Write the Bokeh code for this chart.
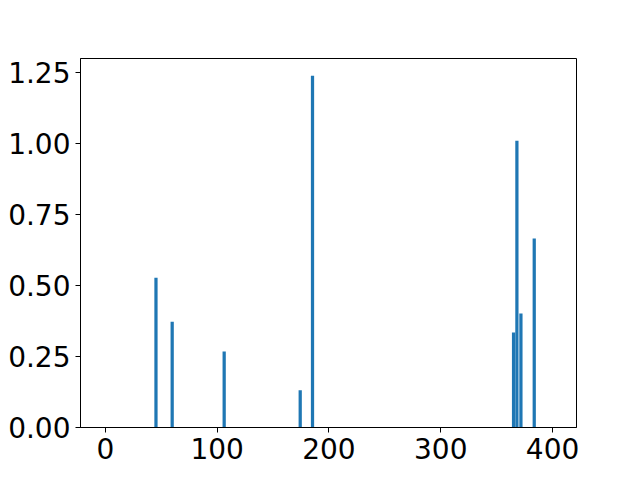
from bokeh.plotting import figure
from bokeh.models import FixedTicker, PrintfTickFormatter, Label, ColumnDataSource, Range1d
from bokeh.embed import file_html
from bokeh.resources import INLINE

# Data
frequencies = [45.3, 59.8, 106.3, 174.3, 185.3, 365.1, 368.1, 371.7, 383.6]
intensities = [0.528, 0.373, 0.268, 0.131, 1.239, 0.335, 1.010, 0.402, 0.666]
x_ticks = [0, 100, 200, 300, 400]
y_ticks = [0.0, 0.25, 0.5, 0.75, 1.0, 1.25]
x_label = "Frequency (cm\u207b\u00b9)"

src = ColumnDataSource(data=dict(x=frequencies, top=intensities))

p = figure(width=640, height=480, output_backend="svg", toolbar_location=None,
           x_range=Range1d(-22.2, 421.4), y_range=Range1d(0, 1.3),
           min_border_left=80, min_border_right=64, min_border_top=58, min_border_bottom=53)

p.vbar(x="x", top="top", bottom=0, width=2.9, source=src,
       fill_color="#1f77b4", line_color=None)

FONT = "DejaVu Sans"
for ax, ticks in ((p.xaxis, x_ticks), (p.yaxis, y_ticks)):
    ax.ticker = FixedTicker(ticks=ticks)
    ax.major_label_text_font = FONT
    ax.major_label_text_font_size = "28px"
    ax.major_label_text_color = "black"
    ax.major_tick_out = 5
    ax.major_tick_in = 0
    ax.minor_tick_line_color = None
    ax.major_tick_line_color = "black"
    ax.axis_line_color = "black"
    ax.major_label_standoff = 5

p.yaxis.formatter = PrintfTickFormatter(format="%.2f")
p.xgrid.grid_line_color = None
p.ygrid.grid_line_color = None
p.outline_line_color = "black"
p.outline_line_width = 1
p.background_fill_color = "white"
p.border_fill_color = "white"

lab = Label(x=199.6, y=-0.158, text=x_label, text_align="center", text_baseline="top",
            text_font=FONT, text_font_size="28px", text_color="black", level="overlay")
p.add_layout(lab)

open("out.html", "w").write(file_html(p, INLINE))
